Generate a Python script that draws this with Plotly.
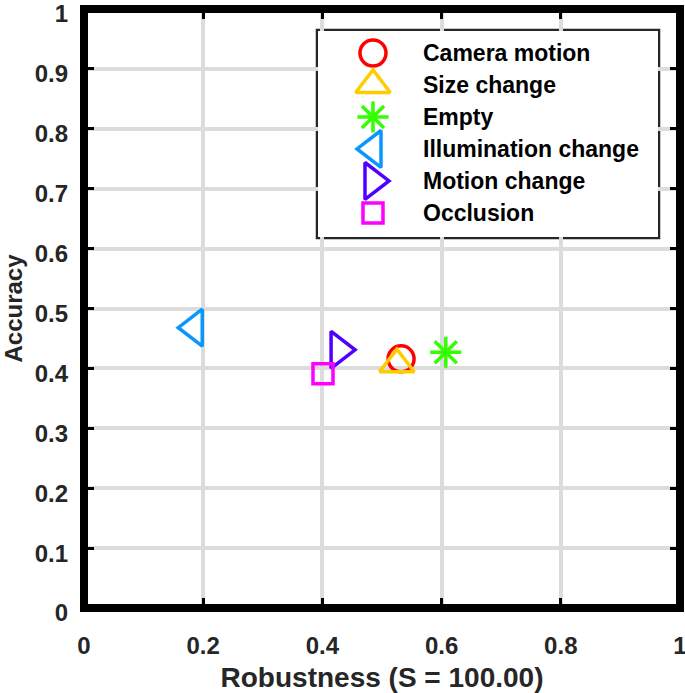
import plotly.graph_objects as go

# ---- data ----
categories = ["Camera motion", "Size change", "Empty", "Illumination change", "Motion change", "Occlusion"]
robustness = [0.532, 0.525, 0.607, 0.185, 0.428, 0.401]
accuracy = [0.416, 0.407, 0.427, 0.468, 0.431, 0.391]
symbols = ["circle-open", "triangle-up-open", "asterisk-open", "triangle-left-open", "triangle-right-open", "square-open"]
colors = ["#ff0000", "#ffcc00", "#33ff00", "#0a96ff", "#5000ff", "#ff00ff"]
sizes = [26, 30, 26, 32, 32, 20]
x_ticks = [0, 0.2, 0.4, 0.6, 0.8, 1]
x_ticklabels = ["0", "0.2", "0.4", "0.6", "0.8", "1"]
y_ticks = [0, 0.1, 0.2, 0.3, 0.4, 0.5, 0.6, 0.7, 0.8, 0.9, 1]
y_ticklabels = ["0", "0.1", "0.2", "0.3", "0.4", "0.5", "0.6", "0.7", "0.8", "0.9", "1"]

FONT = "Liberation Sans, Arial, sans-serif"

fig = go.Figure()

for name, xv, yv, sym, col, sz in zip(categories, robustness, accuracy, symbols, colors, sizes):
    fig.add_trace(go.Scatter(
        x=[xv], y=[yv], mode="markers", name=name, showlegend=False,
        marker=dict(symbol=sym, size=sz, color=col, line=dict(color=col, width=3.5)),
        xaxis="x", yaxis="y", cliponaxis=False,
    ))

# ---- custom legend (large markers like the original) ----
rows = list(range(len(categories)))
for i, (name, sym, col, sz) in enumerate(zip(categories, symbols, colors, sizes)):
    fig.add_trace(go.Scatter(
        x=[55], y=[rows[i]], mode="markers", showlegend=False, hoverinfo="skip",
        marker=dict(symbol=sym, size=sz, color=col, line=dict(color=col, width=3.5)),
        xaxis="x2", yaxis="y2", cliponaxis=False,
    ))
    fig.add_annotation(
        x=103, y=rows[i], xref="x2", yref="y2", text=name, showarrow=False,
        xanchor="left", yanchor="middle",
        font=dict(family=FONT, size=23, color="black", weight="bold"),
    )

# legend box
fig.add_shape(
    type="rect", xref="paper", yref="paper",
    x0=0.3926, x1=0.9631, y0=0.6194, y1=0.9633,
    line=dict(color="#262626", width=4.5), fillcolor="white", layer="between",
)
# axes box (centered on the plot edges, like the original)
fig.add_shape(
    type="rect", xref="paper", yref="paper",
    x0=0, x1=1, y0=0, y1=1,
    line=dict(color="black", width=8), fillcolor="rgba(0,0,0,0)", layer="above",
)

axis_common = dict(
    showline=False, mirror="ticks",
    ticks="inside", ticklen=10, tickwidth=3, tickcolor="black",
    showgrid=True, gridcolor="#dcdcdc", gridwidth=4, zeroline=False,
    automargin=False, ticklabeloverflow="allow",
    tickfont=dict(family=FONT, size=24, color="#262626", weight="bold"),
)

fig.update_layout(
    width=685, height=693,
    margin=dict(l=84, r=5, t=9, b=85),
    plot_bgcolor="white", paper_bgcolor="white",
    showlegend=False,
    xaxis=dict(
        range=[0, 1], tickvals=x_ticks, ticktext=x_ticklabels,
        ticklabelstandoff=21,
        title=dict(text="Robustness (S = 100.00)", standoff=14,
                   font=dict(family=FONT, size=28, color="#262626", weight="bold")),
        **axis_common,
    ),
    yaxis=dict(
        range=[0, 1], tickvals=y_ticks, ticktext=y_ticklabels,
        ticklabelstandoff=15, ticklabelshift=5,
        title=dict(text="Accuracy", standoff=14,
                   font=dict(family=FONT, size=24, color="#262626", weight="bold")),
        **axis_common,
    ),
    xaxis2=dict(domain=[0.3926, 0.9631], range=[0, 340], anchor="y2", visible=False, fixedrange=True),
    yaxis2=dict(domain=[0.6194, 0.9633], range=[5.75, -0.6875], anchor="x2", visible=False, fixedrange=True),
)

fig.write_html("out.html", config={"displayModeBar": False},
               post_script="document.body.style.margin='0';")
